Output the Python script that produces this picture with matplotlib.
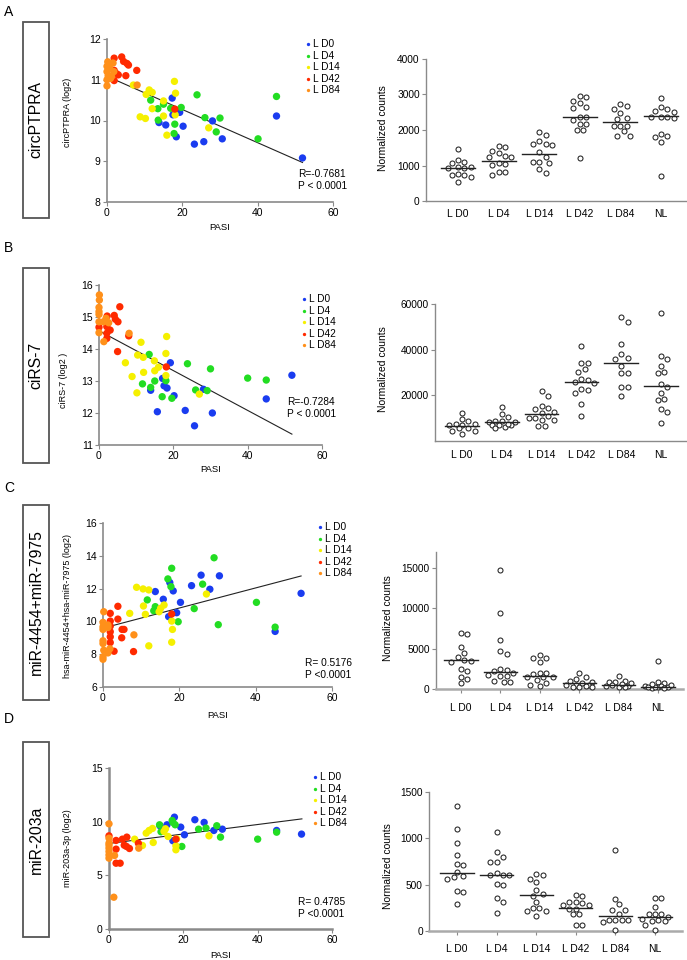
import numpy as np
import matplotlib
matplotlib.use("Agg")
import matplotlib.pyplot as plt
from matplotlib.patches import Rectangle
from matplotlib.lines import Line2D

plt.rcParams['font.family'] = ['Liberation Sans', 'DejaVu Sans']

# ---------------- DATA ----------------
GROUPS = ["L D0", "L D4", "L D14", "L D42", "L D84"]
CATEGORIES = ["L D0", "L D4", "L D14", "L D42", "L D84", "NL"]
COLORS = ["#1a3cf0", "#22dd22", "#f5f000", "#ff2a00", "#ff901a"]
BOX_LABELS = ["circPTPRA", "ciRS-7", "miR-4454+miR-7975", "miR-203a"]
Y_LABELS = ["circPTPRA (log2)", "ciRS-7 (log2 )",
            "hsa-miR-4454+hsa-miR-7975 (log2)", "miR-203a-3p (log2)"]
R_TEXT = ["R=-0.7681", "R=-0.7284", "R= 0.5176", "R= 0.4785"]
P_TEXT = ["P < 0.0001", "P < 0.0001", "P <0.0001", "P <0.0001"]

# Panel A scatter
A_PASI = [
    [17.3, 17.5, 19.3, 13.8, 15.6, 18.4, 20.2, 23.2, 25.7, 28.0, 30.6, 45.0, 51.9],
    [23.9, 11.6, 15.0, 13.5, 16.9, 19.7, 13.6, 18.0, 17.8, 26.0, 30.0, 29.0, 40.1, 45.0],
    [7.0, 11.2, 12.0, 10.4, 17.9, 18.2, 15.0, 12.0, 15.0, 8.8, 10.2, 18.1, 15.9, 27.0],
    [1.9, 3.9, 4.4, 5.3, 5.7, 1.9, 2.5, 3.0, 5.0, 7.9, 1.9, 18.0],
    [0.2, 0.0, 0.7, 0.0, 0.3, 1.6, 0.0, 0.9, 0.0, 1.2, 8.0, 1.8],
]
A_LOG2 = [
    [10.55, 10.14, 10.2, 9.95, 9.89, 9.6, 9.86, 9.42, 9.48, 9.99, 9.55, 10.11, 9.08],
    [10.63, 10.5, 10.4, 10.29, 10.3, 10.32, 10.01, 9.91, 9.68, 10.07, 10.06, 9.72, 9.55, 10.59],
    [10.87, 10.75, 10.69, 10.64, 10.96, 10.67, 10.48, 10.29, 10.11, 10.09, 10.05, 10.14, 9.64, 9.82],
    [11.53, 11.56, 11.45, 11.4, 11.36, 11.23, 11.15, 11.12, 11.1, 11.23, 10.98, 10.28],
    [11.44, 11.33, 11.29, 11.2, 11.1, 11.41, 11.0, 11.03, 10.85, 11.08, 10.87, 11.2],
]
A_FIT = ([0.0, 51.9], [11.085, 8.97])

# Panel B scatter
B_PASI = [
    [19.2, 17.1, 17.5, 18.3, 13.9, 20.2, 15.7, 23.2, 25.7, 30.5, 28.1, 51.9, 45.0],
    [13.5, 23.8, 30.0, 40.0, 45.0, 15.0, 18.0, 11.7, 13.9, 26.0, 29.1, 17.0, 19.6],
    [11.3, 18.2, 10.4, 11.9, 7.1, 14.9, 18.0, 16.0, 15.0, 18.0, 8.9, 12.0, 10.2, 27.0],
    [5.6, 4.1, 2.2, 4.4, 5.1, 0.0, 2.1, 3.0, 2.1, 8.0, 2.1, 5.0, 18.1],
    [0.1, 0.1, 0.0, 0.0, 0.0, 0.0, 1.9, 2.6, 0.0, 1.3, 8.1, 1.2],
]
B_LOG2 = [
    [13.57, 13.08, 12.85, 12.78, 12.71, 12.54, 12.04, 12.08, 11.6, 12.0, 12.74, 13.18, 12.44],
    [13.83, 13.54, 13.38, 13.09, 13.03, 13.0, 13.01, 12.91, 12.8, 12.72, 12.70, 12.51, 12.46],
    [14.21, 14.39, 13.81, 13.74, 13.57, 13.63, 13.86, 13.43, 13.32, 13.17, 13.14, 13.27, 12.63, 12.59],
    [15.32, 15.05, 15.03, 14.93, 14.85, 14.68, 14.70, 14.59, 14.49, 14.41, 14.33, 13.92, 13.44],
    [15.69, 15.53, 15.3, 15.17, 15.08, 14.85, 14.96, 14.82, 14.51, 14.23, 14.49, 14.85],
]
B_FIT = ([0.0, 51.9], [14.57, 11.34])

# Panel C scatter
C_PASI = [
    [13.7, 15.8, 17.5, 18.4, 17.2, 19.3, 20.3, 23.2, 25.7, 28.0, 30.5, 51.9, 45.1],
    [29.1, 18.0, 17.0, 17.8, 26.1, 11.6, 13.7, 13.3, 23.9, 19.7, 40.2, 30.2, 45.1],
    [8.8, 10.5, 12.0, 27.1, 10.6, 11.1, 7.0, 15.1, 16.0, 14.7, 18.0, 18.2, 18.0, 12.0],
    [3.9, 1.9, 3.9, 1.9, 1.9, 5.0, 5.5, 1.9, 4.9, 1.9, 1.9, 2.9, 8.0, 18.0],
    [0.2, 0.0, 0.0, 0.0, 1.3, 1.3, 0.0, 0.0, 0.2, 0.0, 0.0, 1.3, 1.8, 8.1],
]
C_LOG2 = [
    [11.82, 11.35, 12.37, 11.86, 10.29, 10.53, 11.16, 12.18, 12.82, 11.96, 12.78, 11.71, 9.39],
    [13.88, 13.24, 12.59, 12.12, 12.27, 11.31, 10.9, 10.65, 10.78, 9.98, 11.16, 9.8, 9.65],
    [12.08, 11.98, 11.92, 11.67, 10.94, 10.43, 10.49, 10.8, 11.0, 10.59, 10.02, 9.51, 8.73, 8.51],
    [10.92, 10.49, 10.14, 10.02, 9.71, 9.51, 9.51, 9.37, 9.0, 9.06, 8.71, 8.18, 8.16, 10.45],
    [10.59, 9.94, 9.67, 9.51, 9.78, 9.63, 8.82, 8.65, 8.24, 7.84, 7.69, 8.08, 8.33, 9.18],
]
C_FIT = ([0.0, 51.9], [9.59, 12.77])

# Panel D scatter
D_PASI = [
    [17.6, 15.6, 13.7, 19.3, 17.2, 20.3, 23.1, 25.6, 28.2, 30.5, 45.1, 51.8],
    [17.0, 17.8, 13.6, 14.0, 24.1, 26.1, 29.0, 30.0, 19.6, 40.0, 45.1, 17.2],
    [6.9, 10.0, 10.8, 11.7, 15.2, 14.8, 15.9, 11.9, 9.0, 18.0, 18.0, 26.9, 18.2],
    [0.0, 1.9, 3.6, 4.8, 4.1, 4.7, 1.9, 5.5, 7.9, 1.9, 3.0, 18.0],
    [0.0, 0.0, 0.0, 0.0, 0.0, 0.0, 0.0, 1.5, 1.3, 8.0, 0.0],
]
D_LOG2 = [
    [10.42, 9.71, 9.62, 9.49, 8.22, 8.78, 10.18, 9.93, 9.18, 9.3, 9.18, 8.84],
    [10.11, 9.71, 9.71, 9.06, 9.3, 9.4, 9.62, 8.56, 7.69, 8.37, 9.02, 9.93],
    [8.37, 8.93, 9.18, 9.37, 9.34, 9.09, 8.62, 8.06, 7.78, 7.75, 7.38, 8.68, 8.4],
    [8.68, 8.25, 8.37, 8.56, 7.81, 7.69, 7.44, 7.5, 7.99, 6.13, 6.13, 8.37],
    [9.8, 8.46, 8.0, 7.53, 7.22, 6.9, 6.6, 6.85, 2.96, 7.53, 7.8],
]
D_FIT = ([0.0, 51.9], [7.97, 10.26])

# Dot plots (normalized counts) per category
RA = [
    [1470, 1160, 1080, 1090, 970, 920, 920, 970, 760, 735, 735, 670, 530],
    [1534, 1562, 1412, 1270, 1346, 1233, 1252, 1045, 1064, 1016, 828, 809, 734],
    [1940, 1850, 1680, 1590, 1600, 1610, 1390, 1240, 1090, 1110, 1080, 900, 800],
    [2970, 2920, 2820, 2760, 2660, 2620, 2290, 2360, 2360, 2170, 2170, 1990, 2000, 1200],
    [2740, 2680, 2600, 2475, 2315, 2335, 2120, 2120, 2120, 1960, 1835, 1835],
    [2900, 2660, 2590, 2540, 2520, 2380, 2380, 2380, 2350, 1890, 1815, 1835, 1650, 715],
]
RA_LINE = [922, 1139, 1318, 2362, 2221, 2381]

RB = [
    [12400, 9500, 8600, 7300, 7300, 7000, 7000, 5850, 5850, 4250, 4250, 3100],
    [14900, 12000, 10500, 8800, 8800, 8300, 8300, 6900, 7200, 6000, 6900, 5850, 7500],
    [21800, 19600, 14200, 15400, 14600, 12400, 12700, 11000, 10200, 10200, 9100, 9100, 6400, 6400],
    [41700, 34200, 34000, 31500, 30100, 26900, 27100, 25900, 25200, 22200, 22800, 21200, 16000, 11100],
    [54100, 52000, 42300, 38300, 36100, 36300, 32800, 29600, 29600, 23700, 23700, 19500],
    [56200, 37300, 35700, 32800, 29600, 30300, 24900, 23700, 21100, 18300, 17900, 13900, 12700, 7900],
]
RB_LINE = [6600, 8500, 12000, 26000, 34200, 24300]

RC = [
    [6840, 6960, 5260, 4520, 3940, 3520, 3320, 3600, 2530, 2240, 1530, 1240, 700],
    [14750, 9400, 6090, 4310, 4770, 2240, 2360, 2490, 1950, 1660, 1740, 1660, 830, 1040, 870],
    [4230, 3810, 3900, 3320, 1860, 1950, 1950, 1120, 1530, 1530, 1530, 790, 370, 460],
    [1950, 1200, 1450, 1000, 500, 500, 500, 350, 200, 910, 200, 200, 700],
    [1620, 830, 1040, 910, 500, 370, 290, 370, 290, 700, 600],
    [3520, 830, 700, 370, 200, 80, 200, 500, 200, 370, 250, 600, 150],
]
RC_LINE = [3600, 2110, 1620, 790, 500, 290]

RD = [
    [1350, 1100, 950, 820, 720, 715, 640, 590, 560, 580, 430, 420, 290],
    [1070, 850, 800, 750, 750, 630, 605, 605, 605, 510, 500, 356, 313, 198],
    [605, 620, 530, 565, 403, 440, 378, 313, 252, 252, 212, 162, 212],
    [313, 385, 378, 313, 241, 284, 284, 241, 180, 180, 61, 61, 300],
    [870, 349, 288, 230, 230, 115, 115, 115, 115, 97, 7, 180],
    [356, 356, 259, 187, 187, 187, 151, 133, 122, 104, 104, 61, 7],
]
RD_LINE = [630, 605, 385, 252, 165, 151]

# ---------------- LAYOUT ----------------
W, H = 687, 960
fig = plt.figure(figsize=(W / 100, H / 100), dpi=100)
GRAY = "#8a8a8a"


def add_ax(l, t, r, b):
    return fig.add_axes([l / W, 1 - b / H, (r - l) / W, (b - t) / H])


def ftext(x, y, s, **kw):
    kw.setdefault("ha", "center")
    kw.setdefault("va", "center")
    fig.text(x / W, 1 - y / H, s, **kw)


def swarm(vals, ppu, d, maxoff):
    """Beeswarm offsets (pixels): nearest free slot, limited width."""
    vals = np.asarray(vals, float)
    order = np.argsort(-vals)
    placed = []
    offs = np.zeros(len(vals))
    step = d / 2.0
    n = int(maxoff // step)
    cands = [0.0]
    for j in range(1, n + 1):
        cands += [j * step, -j * step]
    for i in order:
        y = vals[i] * ppu
        best, bestd = None, -1
        for c in cands:
            md = min([np.hypot(c - px, y - py) for px, py in placed] + [1e9])
            if md >= d:
                best = c
                break
            if md > bestd:
                best, bestd = c, md
        offs[i] = best
        placed.append((best, y))
    return offs


SC = [
    dict(pasi=A_PASI, val=A_LOG2, fit=A_FIT, box=(22, 218), letter_y=12,
         ax=(107, 39, 333, 202), ylim=(8, 12), yt=[8, 9, 10, 11, 12],
         ylab=(68, 112), xlab_y=228, leg=(308, 44), rp=(298, 174)),
    dict(pasi=B_PASI, val=B_LOG2, fit=B_FIT, box=(268, 463), letter_y=248,
         ax=(99, 285, 322, 445), ylim=(11, 16), yt=[11, 12, 13, 14, 15, 16],
         ylab=(64, 380), xlab_y=470, leg=(304, 299), rp=(287, 402)),
    dict(pasi=C_PASI, val=C_LOG2, fit=C_FIT, box=(505, 700), letter_y=488,
         ax=(103, 523, 332, 687), ylim=(6, 16), yt=[6, 8, 10, 12, 14, 16],
         ylab=(68, 606), xlab_y=715, leg=(320, 527), rp=(305, 663)),
    dict(pasi=D_PASI, val=D_LOG2, fit=D_FIT, box=(742, 937), letter_y=719,
         ax=(109, 768, 332, 929), ylim=(0, 15), yt=[0, 5, 10, 15],
         ylab=(68, 848), xlab_y=955, leg=(315, 777), rp=(298, 902)),
]

DP = [
    dict(vals=RA, line=RA_LINE, ax=(426, 59, 687, 201), cat0=458, sp=40.6,
         ylim=(0, 4000), yt=[0, 1000, 2000, 3000, 4000], ylab=(383, 128), xl_y=214, ticks=False),
    dict(vals=RB, line=RB_LINE, ax=(435, 304, 687, 441), cat0=462, sp=39.8,
         ylim=(0, 60000), yt=[20000, 40000, 60000], ylab=(383, 369), xl_y=455, ticks=False),
    dict(vals=RC, line=RC_LINE, ax=(436, 552, 683, 689), cat0=461, sp=39.4,
         ylim=(0, 17000), yt=[0, 5000, 10000, 15000], ylab=(388, 618), xl_y=708, ticks=True),
    dict(vals=RD, line=RD_LINE, ax=(429, 792, 682, 931), cat0=457, sp=39.6,
         ylim=(0, 1500), yt=[0, 500, 1000, 1500], ylab=(388, 866), xl_y=949, ticks=True),
]

for k, (sc, dp) in enumerate(zip(SC, DP)):
    # letter
    ftext(4, sc["letter_y"], "ABCD"[k], fontsize=10, ha="left")
    # box label
    t, b = sc["box"]
    fig.add_artist(Rectangle((23 / W, 1 - b / H), 26 / W, (b - t) / H,
                             transform=fig.transFigure, fill=False, ec="#555555", lw=1.3))
    ftext(36, (t + b) / 2, BOX_LABELS[k], rotation=90, fontsize=11.3)

    # ---- scatter ----
    l, tp, r, bt = sc["ax"]
    ax = add_ax(l, tp, r, bt)
    for g in range(5):
        ax.scatter(sc["pasi"][g], sc["val"][g], s=28, color=COLORS[g],
                   edgecolors="none", clip_on=False, zorder=3 + g)
    ax.plot(sc["fit"][0], sc["fit"][1], color="#222222", lw=0.8, zorder=2.5)
    ax.set_xlim(0, 60)
    ax.set_ylim(*sc["ylim"])
    ax.set_xticks([0, 20, 40, 60])
    ax.set_yticks(sc["yt"])
    for s in ["top", "right"]:
        ax.spines[s].set_visible(False)
    for s in ["left", "bottom"]:
        ax.spines[s].set_color(GRAY)
        ax.spines[s].set_linewidth(1.2 if k < 3 else 1.8)
    ax.tick_params(labelsize=7.5, length=3, width=0.8, color=GRAY, pad=1.5)
    ax.patch.set_alpha(0)
    ftext(sc["ylab"][0], sc["ylab"][1], Y_LABELS[k], rotation=90, fontsize=6.5)
    ftext((l + r) / 2, sc["xlab_y"], "PASI", fontsize=6.8)
    lx, ly = sc["leg"]
    for g in range(5):
        yy = ly + g * 11.6
        fig.add_artist(Line2D([lx / W], [1 - yy / H], transform=fig.transFigure,
                              marker="o", ms=2.4, ls="", color=COLORS[g], mec="none"))
        ftext(lx + 5, yy, GROUPS[g], fontsize=7.3, ha="left")
    rx, ry = sc["rp"]
    ftext(rx, ry, R_TEXT[k], fontsize=7.3, ha="left")
    ftext(rx, ry + 12, P_TEXT[k], fontsize=7.3, ha="left")

    # ---- dot plot ----
    l, tp, r, bt = dp["ax"]
    ax2 = add_ax(l, tp, r, bt)
    ppu = (bt - tp) / (dp["ylim"][1] - dp["ylim"][0])
    for c, vals in enumerate(dp["vals"]):
        offs = swarm(vals, ppu, 6.4, 13.0) / dp["sp"]
        ax2.plot(c + offs, vals, ls="", marker="o", ms=3.6, mfc="white",
                 mec="#222222", mew=0.75, clip_on=False, zorder=3)
        ax2.plot([c - 0.42, c + 0.42], [dp["line"][c]] * 2, color="#222222",
                 lw=1.0, zorder=4)
    ax2.set_xlim((l - dp["cat0"]) / dp["sp"], (r - dp["cat0"]) / dp["sp"])
    ax2.set_ylim(*dp["ylim"])
    ax2.set_yticks(dp["yt"])
    ax2.set_xticks(range(6))
    ax2.set_xticklabels([])
    for s in ["top", "right"]:
        ax2.spines[s].set_visible(False)
    ax2.spines["left"].set_color(GRAY)
    ax2.spines["bottom"].set_color("#aaaaaa" if k >= 2 else GRAY)
    ax2.spines["bottom"].set_linewidth(1.8 if k >= 2 else 1.0)
    ax2.spines["left"].set_linewidth(1.0)
    ax2.tick_params(axis="y", labelsize=7.3, length=3, width=0.8, color=GRAY, pad=1.5)
    ax2.tick_params(axis="x", length=(3 if dp["ticks"] else 0), width=0.8, color=GRAY)
    ax2.patch.set_alpha(0)
    for c, name in enumerate(CATEGORIES):
        ftext(dp["cat0"] + c * dp["sp"], dp["xl_y"], name, fontsize=7.5)
    ftext(dp["ylab"][0], dp["ylab"][1], "Normalized counts", rotation=90, fontsize=7.5)

fig.savefig("out.png", dpi=100)
